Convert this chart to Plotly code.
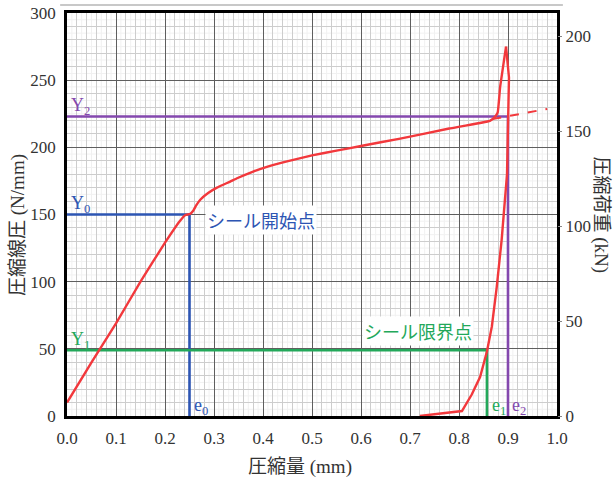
import plotly.graph_objects as go

# Compression vs. line pressure (N/mm); right axis shows the same scale as load (kN)
press_x = [0.0, 0.05, 0.10, 0.15, 0.20, 0.23, 0.241, 0.251, 0.258, 0.264, 0.272, 0.288,
           0.306, 0.333, 0.347, 0.38, 0.408, 0.449, 0.50, 0.55, 0.60, 0.68, 0.78, 0.863,
           0.873, 0.879, 0.884, 0.896]
press_y = [10, 40, 69, 100, 129, 145, 149.5, 150.4, 153, 157, 161, 166,
           170, 174.5, 177, 182, 185.5, 189.5, 194, 197.5, 201, 206.5, 214, 219.7,
           222.5, 226, 245, 275]

# Unloading branch back from the peak down to zero
load_x = [0.896, 0.902, 0.898, 0.887, 0.877, 0.867, 0.857, 0.843, 0.826, 0.814, 0.806, 0.72]
load_y = [275, 252, 180, 131, 96, 66.5, 48, 29, 16, 8, 3.7, 0]

# Extrapolated line-pressure trend
ext_x = [0.868, 0.98]
ext_y = [221, 228.6]

# Reference levels
y0, y1, y2 = 150, 49, 223
e0, e1, e2 = 0.25, 0.857, 0.90

x_ticks = [round(i * 0.1, 1) for i in range(11)]
y_ticks = [0, 50, 100, 150, 200, 250, 300]
kn_ticks = [0, 50, 100, 150, 200]
KN_PER_NMM = 0.70711

RED = "#f2383c"
BLUE = "#2d55b3"
GREEN = "#23a85a"
PURPLE = "#8448ae"
NUM = "Liberation Serif"
SERIF = "Liberation Serif, Noto Sans CJK JP"
JP = "Noto Sans CJK JP"

fig = go.Figure()

# Fine graph-paper lines below the grid
shapes = []
for i in range(1, 100):
    if i % 2:
        shapes.append(dict(type="line", xref="x", yref="paper", x0=i / 100, x1=i / 100,
                           y0=0, y1=1, line=dict(color="#f1f1f1", width=1), layer="below"))
for v in range(5, 300, 10):
    shapes.append(dict(type="line", xref="paper", yref="y", x0=0, x1=1, y0=v, y1=v,
                       line=dict(color="#f1f1f1", width=1), layer="below"))

# Seal start / limit / reference lines
fig.add_trace(go.Scatter(x=[0, e0, e0], y=[y0, y0, 0], mode="lines",
                         line=dict(color=BLUE, width=2.6), hoverinfo="skip", showlegend=False))
fig.add_trace(go.Scatter(x=[0, e1, e1], y=[y1, y1, 0], mode="lines",
                         line=dict(color=GREEN, width=2.6), hoverinfo="skip", showlegend=False))
fig.add_trace(go.Scatter(x=[0, e2, e2], y=[y2, y2, 0], mode="lines",
                         line=dict(color=PURPLE, width=2.6), hoverinfo="skip", showlegend=False))

fig.add_trace(go.Scatter(x=ext_x, y=ext_y, mode="lines",
                         line=dict(color=RED, width=2, dash="dash"), showlegend=False))
fig.add_trace(go.Scatter(x=press_x, y=press_y, mode="lines", line_shape="spline",
                         line=dict(color=RED, width=2.4, smoothing=0.3), showlegend=False))
fig.add_trace(go.Scatter(x=load_x, y=load_y, mode="lines",
                         line=dict(color=RED, width=2.4), showlegend=False))

# Right axis (kN) carrier
fig.add_trace(go.Scatter(x=[0], y=[0], yaxis="y2", mode="markers",
                         marker=dict(opacity=0), hoverinfo="skip", showlegend=False))

# Decorative rule along the top
shapes.append(dict(type="line", xref="paper", yref="paper", x0=-0.014, x1=1.012,
                   y0=1.02, y1=1.02, line=dict(color="#c8c8c8", width=2)))

ann = [
    dict(x=0.004, y=230.5, text="Y<sub>2</sub>", font=dict(color=PURPLE, size=18, family=NUM),
         xanchor="left"),
    dict(x=0.004, y=157.5, text="Y<sub>0</sub>", font=dict(color=BLUE, size=18, family=NUM),
         xanchor="left"),
    dict(x=0.004, y=56, text="Y<sub>1</sub>", font=dict(color=GREEN, size=18, family=NUM),
         xanchor="left"),
    dict(x=e0 + 0.006, y=7, text="e<sub>0</sub>", font=dict(color=BLUE, size=18, family=NUM),
         xanchor="left"),
    dict(x=e1 + 0.006, y=7, text="e<sub>1</sub>", font=dict(color=GREEN, size=18, family=NUM),
         xanchor="left"),
    dict(x=e2 + 0.004, y=7, text="e<sub>2</sub>", font=dict(color=PURPLE, size=18, family=NUM),
         xanchor="left"),
    dict(x=0.395, y=146, text="シール開始点", font=dict(color=BLUE, size=18, family=JP),
         bgcolor="white", borderpad=1),
    dict(x=0.717, y=63, text="シール限界点", font=dict(color=GREEN, size=18, family=JP),
         bgcolor="white", borderpad=1),
    dict(xref="paper", yref="paper", x=1.09, y=0.5, text="圧縮荷重 (kN)", textangle=90,
         xanchor="center", yanchor="middle",
         font=dict(color="#333", size=19, family=SERIF)),
    dict(xref="paper", yref="paper", x=-0.1, y=0.474, text="圧縮線圧 (N/mm)", textangle=-90,
         xanchor="center", yanchor="middle",
         font=dict(color="#333", size=19, family=SERIF)),
    dict(xref="paper", yref="paper", x=0.476, y=-0.127, text="圧縮量 (mm)",
         xanchor="center", yanchor="middle",
         font=dict(color="#333", size=19, family=SERIF)),
]
for a in ann:
    a.setdefault("showarrow", False)
    a.setdefault("xref", "x")
    a.setdefault("yref", "y")

fig.update_layout(
    width=614, height=479,
    margin=dict(l=67, r=57, t=13, b=63, autoexpand=False),
    paper_bgcolor="white", plot_bgcolor="white",
    shapes=shapes, annotations=ann,
    xaxis=dict(range=[0, 1], tickvals=x_ticks, ticktext=[f"{v:.1f}" for v in x_ticks],
               showgrid=True, gridcolor="#5e5e5e", gridwidth=1.4,
               minor=dict(dtick=0.02, showgrid=True, gridcolor="#cdcdcd", gridwidth=1),
               showline=True, linecolor="black", linewidth=2.6, mirror=True,
               zeroline=False, ticks="", ticklabelstandoff=5, automargin=False,
               tickfont=dict(family=NUM, size=17, color="#333")),
    yaxis=dict(range=[0, 300], tickvals=y_ticks,
               showgrid=True, gridcolor="#5e5e5e", gridwidth=1.4,
               minor=dict(dtick=10, showgrid=True, gridcolor="#cdcdcd", gridwidth=1),
               showline=True, linecolor="black", linewidth=2.6, mirror=True,
               zeroline=False, ticks="", ticklabelstandoff=5, automargin=False,
               tickfont=dict(family=NUM, size=17, color="#333")),
    yaxis2=dict(range=[0, 300 * KN_PER_NMM], tickvals=kn_ticks, overlaying="y", side="right",
                showgrid=False, zeroline=False, ticks="outside", ticklen=4, tickcolor="#888",
                automargin=False, tickfont=dict(family=NUM, size=17, color="#333")),
)

fig.write_html("out.html")
